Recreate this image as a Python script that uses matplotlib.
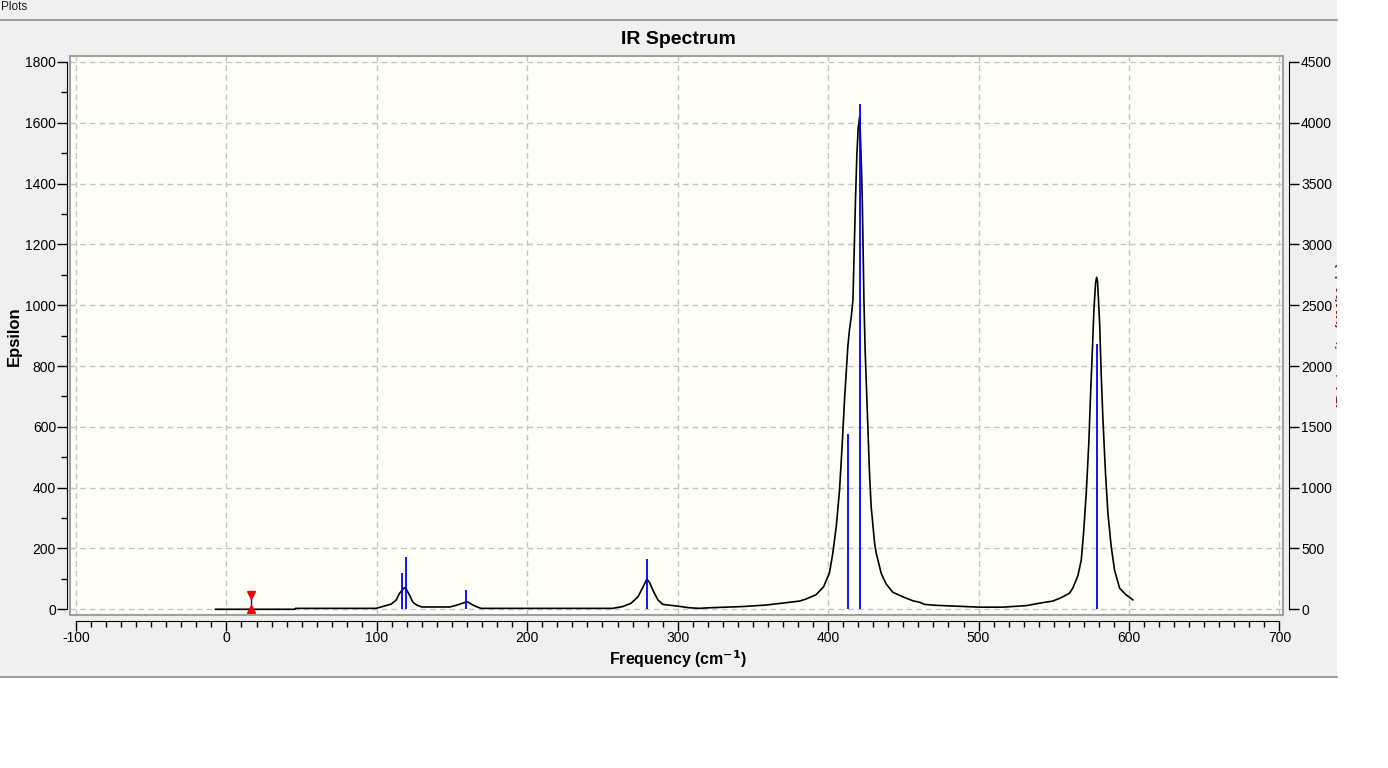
import matplotlib
matplotlib.use("Agg")
import matplotlib.pyplot as plt
from matplotlib.patches import Rectangle
from matplotlib.lines import Line2D
from matplotlib.transforms import Bbox
from matplotlib.ticker import MultipleLocator

plt.rcParams['font.family'] = ['Liberation Sans', 'DejaVu Sans']
plt.rcParams['axes.unicode_minus'] = False

# broadened spectrum (cm-1, epsilon)
freq = [-7.3, 45.5, 45.9, 99.5, 103.5, 109.5, 112.8, 115.0, 117.9, 118.7, 119.5,
        121.7, 124.0, 126.5, 130.0, 148.3, 152.7, 158.9, 160.5, 162.7, 166.0,
        169.3, 256.7, 263.5, 269.0, 273.6, 277.0, 279.5, 281.3, 283.5, 286.8,
        290.1, 299.0, 307.8, 314.5, 321.0, 343.3, 358.8, 374.3, 381.0, 385.4,
        392.0, 397.0, 400.9, 403.1, 405.4, 407.6, 409.4, 410.9, 413.1, 414.2,
        415.4, 416.5, 418.2, 419.1, 420.0, 420.9, 421.4, 422.2, 422.7, 423.8,
        424.6, 426.4, 427.5, 428.6, 430.9, 432.0, 434.2, 435.3, 438.6, 443.0,
        449.7, 456.3, 460.8, 464.1, 471.9, 486.2, 500.7, 516.2, 531.7, 542.8,
        549.4, 553.9, 556.0, 560.5, 562.7, 566.0, 568.3, 569.8, 571.6, 573.3,
        574.5, 575.6, 576.7, 577.8, 578.5, 579.1, 580.5, 581.6, 582.7, 584.4,
        586.0, 588.2, 590.4, 593.8, 598.2, 602.6]
epsilon = [0, 0, 3, 3, 8.6, 17, 30, 52, 69, 71, 66,
           47, 23, 14, 7.5, 7.5, 13, 23, 24, 17, 9,
           3, 3, 9, 20, 41, 74, 99, 88, 63, 31,
           16, 11, 5, 3, 5, 9, 14, 23, 27, 34,
           48, 74, 120, 184, 272, 393, 546, 689, 864, 919,
           963, 1018, 1347, 1495, 1583, 1618, 1561, 1446, 1347, 1018,
           853, 601, 448, 338, 217, 184, 140, 118, 83, 56,
           41, 28, 23, 16, 13, 10, 7, 7, 12, 22,
           27, 36, 41, 53, 70, 110, 162, 250, 382, 546,
           711, 842, 985, 1073, 1092, 1078, 941, 765, 623, 447,
           316, 206, 129, 69, 47, 31]

# calculated lines (cm-1, IR intensity on the right axis)
stick_freq = [48.3, 72.5, 104.0, 109.5, 116.6, 119.2, 156.7, 159.1, 191.0,
              263.5, 279.5, 307.4, 413.4, 421.1, 459.0, 574.0, 578.7]
stick_intensity = [5, 5, 5, 5, 300, 432, 5, 157, 5,
                   5, 412, 5, 1440, 4157, 5, 5, 2180]

# little red cursor marker on the baseline
marker_freq = 16.6
marker_low, marker_high = 2, 48

x_ticks = list(range(-100, 701, 100))
y_ticks = list(range(0, 1801, 200))
y2_ticks = list(range(0, 4501, 500))
y2_scale = 2.5

W, H = 1388, 768
fig = plt.figure(figsize=(W / 100, H / 100), dpi=100)
fig.patch.set_facecolor('white')

# grey window panel and its separator lines
fig.patches.append(Rectangle((0, 1 - 677 / H), 1337 / W, 677 / H,
                             transform=fig.transFigure, facecolor='#f0f0f0',
                             edgecolor='none', zorder=-5))
fig.lines.append(Line2D([0, 1337 / W], [1 - 19.5 / H] * 2, transform=fig.transFigure,
                        color='#8c8c8c', lw=1.2, zorder=-4))
fig.lines.append(Line2D([0, 1337 / W], [1 - 677 / H] * 2, transform=fig.transFigure,
                        color='#8c8c8c', lw=1.2, zorder=-4))
fig.text(0.5 / W, 1 - 7 / H, 'Plots', fontsize=8.5, ha='left', va='center',
         color='#1a1a1a')

ax = fig.add_axes([70 / W, 1 - 614.7 / H, 1213 / W, (614.7 - 56) / H])
ax.set_facecolor('#fffff8')
ax.set_xlim(-104.0, 702.4)
ax.set_ylim(-17.8, 1819.7)

ax.plot(freq, epsilon, color='black', lw=1.2, zorder=3)
ax.vlines(marker_freq, marker_low, marker_high, color='blue', lw=1, zorder=4)
ax.plot([marker_freq], [marker_high], marker='v', color='red', ms=6, zorder=5)
ax.plot([marker_freq], [marker_low], marker='^', color='red', ms=6, zorder=5)

ax.set_xticks(x_ticks)
ax.set_yticks(y_ticks)
ax.xaxis.set_minor_locator(MultipleLocator(10))
ax.yaxis.set_minor_locator(MultipleLocator(100))
ax.grid(True, which='major', color='#c4c4c4', linestyle=(0, (4, 3)), lw=1)
ax.tick_params(which='major', length=7, width=1, labelsize=10)
ax.tick_params(axis='x', which='major', pad=0.5)
ax.tick_params(axis='y', which='major', pad=1)
ax.tick_params(which='minor', length=4, width=1)

for s in ('top', 'right'):
    ax.spines[s].set_visible(False)
ax.spines['left'].set_position(('outward', 2))
ax.spines['left'].set_bounds(0, 1800)
ax.spines['bottom'].set_position(('outward', 4.5))
ax.spines['bottom'].set_bounds(-100, 700)
ax.add_patch(Rectangle((0, 0), 1, 1, transform=ax.transAxes, fill=False,
                       edgecolor='#a0a0a0', lw=1.5, clip_on=False, zorder=6))

ax2 = ax.twinx()
ax2.set_ylim(-17.8 * y2_scale, 1819.7 * y2_scale)
ax2.vlines(stick_freq, 0, stick_intensity, color='blue', lw=1.3, zorder=4)
ax2.set_yticks(y2_ticks)
ax2.tick_params(which='major', length=7, width=1, labelsize=10, pad=1.5)
for s in ('top', 'left', 'bottom'):
    ax2.spines[s].set_visible(False)
ax2.spines['right'].set_position(('outward', 4.5))
ax2.spines['right'].set_bounds(0, 4500)

fig.text(678 / W, 1 - 39 / H, 'IR Spectrum', fontsize=14, fontweight='bold',
         ha='center', va='center')
fig.text(678 / W, 1 - 659 / H, r'Frequency (cm$^{\mathbf{-1}}$)', fontsize=11.5,
         fontweight='bold', ha='center', va='center')
fig.text(14 / W, 1 - 336 / H, 'Epsilon', fontsize=12, fontweight='bold',
         rotation=90, ha='center', va='center')

# right axis label, cut off by the panel edge in the screenshot
t = fig.text(1335.5 / W, 1 - 335 / H, 'IR Intensity (KM/Mole)', fontsize=10,
             fontweight='bold', rotation=90, ha='left', va='center',
             color='#8b1a1a')
t.set_clip_on(True)
t.set_clip_box(Bbox.from_extents(0, 0, 1337, H))

fig.savefig('out.png', dpi=100)
